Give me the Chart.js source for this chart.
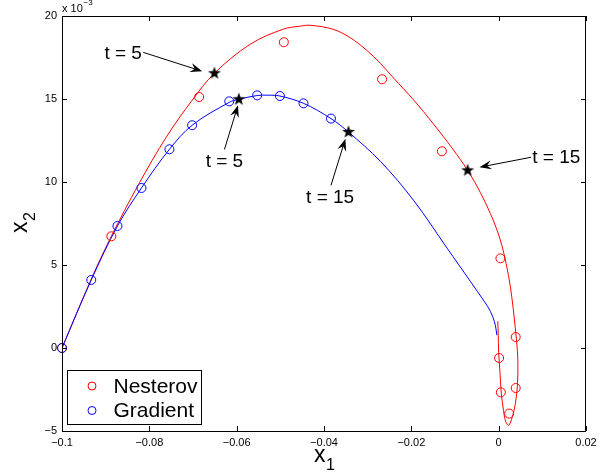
<!DOCTYPE html>
<html>
<head>
<meta charset="utf-8">
<script src="https://cdn.jsdelivr.net/npm/chart.js@4.4.1/dist/chart.umd.min.js"></script>
<style>
  html, body { margin: 0; padding: 0; background: #fff; }
  #wrap { width: 608px; height: 473px; }
</style>
</head>
<body>
<div id="wrap"><canvas id="chart" width="608" height="473"></canvas></div>
<script>
// x2 values are in units of 1e-3 (axis shows "x 10^-3")

// continuous trajectories
const nesterovLineX = [-0.1, -0.0933, -0.0887, -0.0825, -0.076, -0.0702, -0.0651, -0.0569, -0.0493, -0.0454, -0.0431, -0.0379, -0.034, -0.0302, -0.0271, -0.0241, -0.0195, -0.015, -0.0105, -0.0071, -0.0042, -0.0019, -0.0003, 0.0008, 0.0017, 0.0027, 0.0038, 0.0043, 0.0044, 0.0043, 0.0038, 0.0031, 0.0023, 0.0016, 0.0011, 0.0006, 0.0003, 0.0, -0.0001, -0.0002];
const nesterovLineY = [0, 4.15, 6.73, 9.84, 12.75, 14.92, 16.55, 18.3, 19.21, 19.39, 19.44, 19.2, 18.69, 17.93, 17.15, 16.27, 14.95, 13.52, 11.98, 10.7, 9.37, 8.1, 7.05, 6.11, 5.1, 3.66, 1.25, -0.2, -1.04, -2.25, -3.39, -4.17, -4.66, -4.42, -3.75, -2.73, -1.46, -0.26, 0.77, 1.61];

const gradientLineX = [-0.1, -0.0933, -0.0873, -0.0818, -0.0754, -0.0702, -0.0617, -0.0595, -0.0553, -0.0528, -0.0501, -0.0447, -0.0384, -0.0344, -0.0271, -0.0195, -0.0118, -0.0065, -0.0033, -0.0019, -0.001, -0.0006, -0.0004];
const gradientLineY = [0, 4.1, 7.35, 9.64, 11.97, 13.42, 14.8, 14.98, 15.21, 15.23, 15.18, 14.74, 13.82, 13.01, 11.25, 8.9, 6.01, 4.02, 2.81, 2.21, 1.61, 1.13, 0.77];

// discrete iterates (circles)
const nesterovX = [-0.1, -0.0887, -0.0686, -0.0492, -0.0267, -0.013, 0.0004, 0.0039, 0.0001, 0.0039, 0.0005, 0.0024];
const nesterovY = [0, 6.73, 15.12, 18.42, 16.19, 11.85, 5.4, 0.66, -0.6, -2.41, -2.67, -3.95];

const gradientX = [-0.1, -0.0933, -0.0873, -0.0818, -0.0754, -0.0702, -0.0617, -0.0553, -0.0501, -0.0447, -0.0384];
const gradientY = [0, 4.1, 7.35, 9.64, 11.97, 13.42, 14.86, 15.22, 15.18, 14.74, 13.82];

// t = 5 and t = 15 marks
const starX = [-0.0651, -0.0071, -0.0595, -0.0344];
const starY = [16.55, 10.7, 14.98, 13.01];

const xTicks = [-0.1, -0.08, -0.06, -0.04, -0.02, 0, 0.02];
const xTickLabels = ['\u22120.1', '\u22120.08', '\u22120.06', '\u22120.04', '\u22120.02', '0', '0.02'];
const yTicks = [-5, 0, 5, 10, 15, 20];
const yTickLabels = ['\u22125', '0', '5', '10', '15', '20'];

const seriesNames = ['Nesterov', 'Gradient'];
const seriesColors = ['#ff0000', '#0000ff'];

// text labels with arrows (data coordinates)
const notes = [
    { text: 't = 5',  at: [-0.0860, 17.75], from: [-0.0814, 17.81], to: [-0.0679, 16.67] },
    { text: 't = 5',  at: [-0.0628, 11.19], from: [-0.0628, 11.96], to: [-0.0597, 14.62] },
    { text: 't = 15', at: [-0.0386, 9.08],  from: [-0.0384, 9.80],  to: [-0.0351, 12.60] },
    { text: 't = 15', at: [0.0132, 11.49],  from: [0.0074, 11.49],  to: [-0.0044, 10.89] }
];

const FONT = '"Liberation Sans", Arial, Helvetica, sans-serif';

function zip(xs, ys) {
    return xs.map((x, i) => ({ x: x, y: ys[i] }));
}

// filled pentagram used as point style
function makeStar(r) {
    const c = document.createElement('canvas');
    const size = Math.ceil(r * 2 + 2);
    c.width = size;
    c.height = size;
    const g = c.getContext('2d');
    const cx = size / 2, cy = size / 2;
    g.beginPath();
    for (let i = 0; i < 10; i++) {
        const rad = i % 2 === 0 ? r : r * 0.4;
        const a = -Math.PI / 2 + i * Math.PI / 5;
        const px = cx + rad * Math.cos(a);
        const py = cy + rad * Math.sin(a);
        if (i === 0) g.moveTo(px, py); else g.lineTo(px, py);
    }
    g.closePath();
    g.fillStyle = '#000';
    g.fill();
    return c;
}
const starImg = makeStar(6.8);

function drawArrow(ctx, x0, y0, x1, y1) {
    const dx = x1 - x0, dy = y1 - y0;
    const len = Math.hypot(dx, dy);
    const ux = dx / len, uy = dy / len;
    const nx = -uy, ny = ux;
    const L = 12, W = 4.5;
    ctx.beginPath();
    ctx.moveTo(x0, y0);
    ctx.lineTo(x1 - ux * L * 0.6, y1 - uy * L * 0.6);
    ctx.stroke();
    ctx.beginPath();
    ctx.moveTo(x1, y1);
    ctx.lineTo(x1 - ux * L + nx * W, y1 - uy * L + ny * W);
    ctx.lineTo(x1 - ux * L * 0.65, y1 - uy * L * 0.65);
    ctx.lineTo(x1 - ux * L - nx * W, y1 - uy * L - ny * W);
    ctx.closePath();
    ctx.fill();
}

// axes box, inward ticks, legend, labels, annotations
const decorPlugin = {
    id: 'decor',
    afterDraw(chart) {
        const ctx = chart.ctx;
        const a = chart.chartArea;
        const xs = chart.scales.x, ys = chart.scales.y;
        ctx.save();
        ctx.strokeStyle = '#000';
        ctx.fillStyle = '#000';
        ctx.lineWidth = 1;

        // box
        ctx.strokeRect(Math.round(a.left) + 0.5, Math.round(a.top) + 0.5,
            Math.round(a.right - a.left) - 1, Math.round(a.bottom - a.top));

        // inward ticks on all four sides
        ctx.beginPath();
        xTicks.forEach(v => {
            const px = Math.round(xs.getPixelForValue(v)) + 0.5;
            ctx.moveTo(px, a.bottom); ctx.lineTo(px, a.bottom - 5);
            ctx.moveTo(px, a.top); ctx.lineTo(px, a.top + 5);
        });
        yTicks.forEach(v => {
            const py = Math.round(ys.getPixelForValue(v)) + 0.5;
            ctx.moveTo(a.left, py); ctx.lineTo(a.left + 5, py);
            ctx.moveTo(a.right, py); ctx.lineTo(a.right - 5, py);
        });
        ctx.stroke();

        // exponent label
        ctx.textAlign = 'left';
        ctx.textBaseline = 'alphabetic';
        ctx.font = '11px ' + FONT;
        ctx.fillText('x 10', a.left, 12);
        ctx.font = '8px ' + FONT;
        ctx.fillText('\u22123', a.left + 21.5, 5);

        // annotations
        ctx.font = '19px ' + FONT;
        ctx.textAlign = 'center';
        ctx.textBaseline = 'middle';
        notes.forEach(n => {
            ctx.fillText(n.text, xs.getPixelForValue(n.at[0]), ys.getPixelForValue(n.at[1]));
            drawArrow(ctx,
                xs.getPixelForValue(n.from[0]), ys.getPixelForValue(n.from[1]),
                xs.getPixelForValue(n.to[0]), ys.getPixelForValue(n.to[1]));
        });

        // axis labels
        ctx.textAlign = 'left';
        ctx.textBaseline = 'alphabetic';
        ctx.font = '23px ' + FONT;
        ctx.fillText('x', 314, 462);
        ctx.font = '16px ' + FONT;
        ctx.fillText('1', 326, 470);

        ctx.save();
        ctx.translate(27, 233);
        ctx.rotate(-Math.PI / 2);
        ctx.font = '23px ' + FONT;
        ctx.fillText('x', 0, 0);
        ctx.font = '16px ' + FONT;
        ctx.fillText('2', 12, 8);
        ctx.restore();

        // legend
        const lx = Math.round(a.left) + 5.5, ly = 370.5;
        ctx.fillStyle = '#fff';
        ctx.fillRect(lx, ly, 134, 54);
        ctx.strokeRect(lx, ly, 134, 54);
        ctx.font = '21px ' + FONT;
        ctx.textBaseline = 'middle';
        seriesNames.forEach((name, i) => {
            const cy = ly + 15.5 + i * 24.5;
            ctx.strokeStyle = seriesColors[i];
            ctx.beginPath();
            ctx.arc(lx + 24.5, cy, 4, 0, Math.PI * 2);
            ctx.stroke();
            ctx.fillStyle = '#000';
            ctx.fillText(name, lx + 46, cy + 1);
        });
        ctx.restore();
    }
};

const ctx = document.getElementById('chart').getContext('2d');
const chart = new Chart(ctx, {
    type: 'scatter',
    data: {
        datasets: [
            {
                label: 'Nesterov path',
                data: zip(nesterovLineX, nesterovLineY),
                showLine: true,
                borderColor: seriesColors[0],
                borderWidth: 1,
                pointRadius: 0,
                tension: 0.35,
                order: 4
            },
            {
                label: 'Gradient path',
                data: zip(gradientLineX, gradientLineY),
                showLine: true,
                borderColor: seriesColors[1],
                borderWidth: 1,
                pointRadius: 0,
                tension: 0.35,
                order: 3
            },
            {
                label: seriesNames[0],
                data: zip(nesterovX, nesterovY),
                borderColor: seriesColors[0],
                backgroundColor: 'rgba(0,0,0,0)',
                borderWidth: 1,
                pointRadius: 4.5,
                clip: false,
                order: 2
            },
            {
                label: seriesNames[1],
                data: zip(gradientX, gradientY),
                borderColor: seriesColors[1],
                backgroundColor: 'rgba(0,0,0,0)',
                borderWidth: 1,
                pointRadius: 4.5,
                clip: false,
                order: 1
            },
            {
                label: 'marks',
                data: zip(starX, starY),
                pointStyle: starImg,
                pointRadius: 7,
                order: 0
            }
        ]
    },
    options: {
        responsive: false,
        animation: false,
        devicePixelRatio: 1,
        layout: { padding: { top: 16, right: 22, left: 0, bottom: 0 } },
        plugins: {
            legend: { display: false },
            tooltip: { enabled: false }
        },
        scales: {
            x: {
                type: 'linear',
                min: -0.1,
                max: 0.02,
                grid: { display: false, drawTicks: false },
                border: { display: false },
                afterBuildTicks: s => { s.ticks = xTicks.map(v => ({ value: v })); },
                afterFit: s => { s.height = 42; },
                ticks: {
                    color: '#000',
                    padding: 5,
                    maxRotation: 0,
                    autoSkip: false,
                    font: { family: FONT, size: 11 },
                    callback: (v, i) => xTickLabels[i]
                }
            },
            y: {
                type: 'linear',
                min: -5,
                max: 20,
                grid: { display: false, drawTicks: false },
                border: { display: false },
                afterBuildTicks: s => { s.ticks = yTicks.map(v => ({ value: v })); },
                afterFit: s => { s.width = 62; },
                ticks: {
                    color: '#000',
                    padding: 5,
                    autoSkip: false,
                    font: { family: FONT, size: 11 },
                    callback: (v, i) => yTickLabels[i]
                }
            }
        }
    },
    plugins: [decorPlugin]
});
</script>
</body>
</html>
